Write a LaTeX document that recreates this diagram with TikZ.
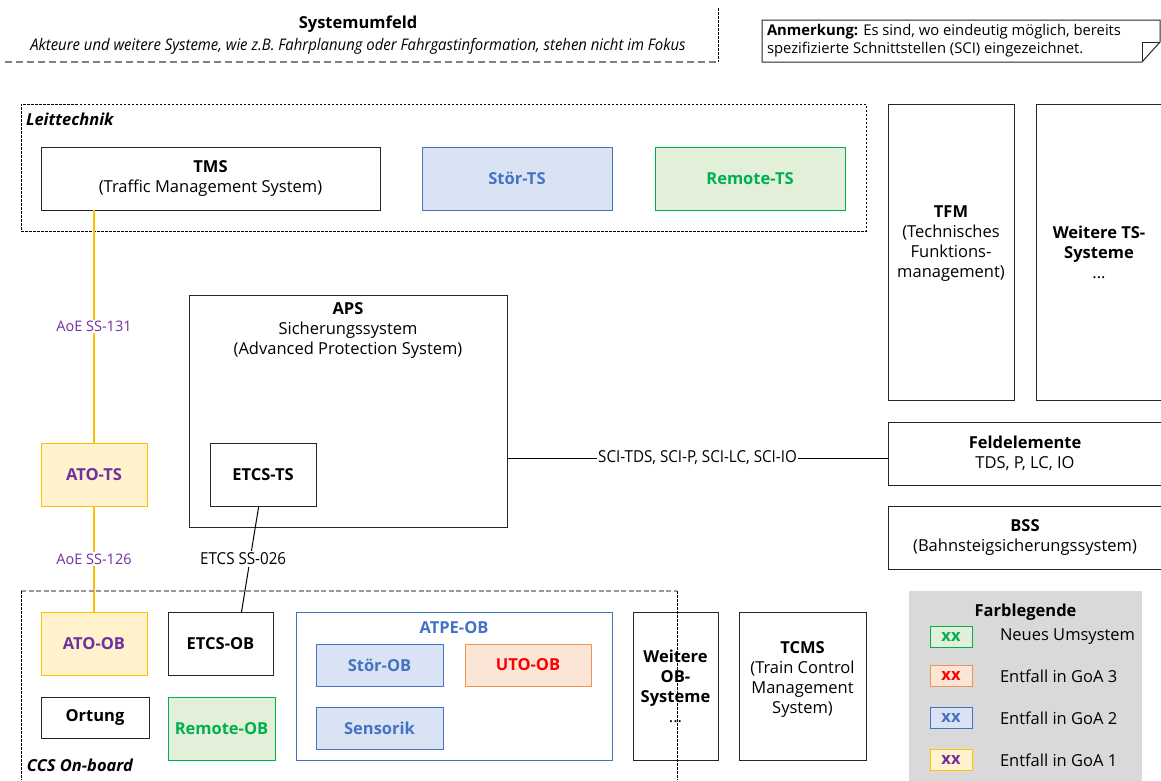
\documentclass[tikz,border=0pt]{standalone}
\usepackage{fontspec}
\setmainfont{Open Sans}
\newfontfamily\condfont{Open Sans}[FakeStretch=0.92]
\newfontfamily\subcondfont{Open Sans}[FakeStretch=0.93]
\usetikzlibrary{calc}

\definecolor{boxline}{HTML}{262626}
\definecolor{bluebd}{HTML}{4472C4}
\definecolor{bluefill}{HTML}{DAE3F3}
\definecolor{greenbd}{HTML}{00B050}
\definecolor{greenfill}{HTML}{E2F0D9}
\definecolor{yellowbd}{HTML}{FFC000}
\definecolor{yellowfill}{HTML}{FFF2CC}
\definecolor{purpletxt}{HTML}{7030A0}
\definecolor{orangebd}{HTML}{F0944F}
\definecolor{orangefill}{HTML}{FBE5D6}
\definecolor{redtxt}{HTML}{FF0000}
\definecolor{legendgray}{HTML}{D9D9D9}
\definecolor{dashgray}{HTML}{7F7F7F}

\newcommand\boxfont{\fontsize{16.5}{20}\selectfont}
\newcommand\labelfont{\fontsize{14.5}{17}\selectfont}
\newcommand\condlabelfont{\condfont\fontsize{16.5}{18}\selectfont}
\newcommand\notefont{\fontsize{14.8}{18}\selectfont}
\newcommand\subfont{\subcondfont\fontsize{16}{18}\selectfont}

\tikzset{
  every node/.style={inner sep=0pt, outer sep=0pt},
  wh/.style 2 args={minimum width=#1, minimum height=#2},
  sysbox/.style={draw=boxline, line width=1pt, fill=white, align=center,
    font=\boxfont, anchor=north west, text=black},
  boldbox/.style={sysbox, font=\boxfont\bfseries},
  bluebox/.style={sysbox, draw=bluebd, fill=bluefill, text=bluebd, font=\boxfont\bfseries},
  greenbox/.style={sysbox, draw=greenbd, fill=greenfill, text=greenbd, font=\boxfont\bfseries},
  yellowbox/.style={sysbox, draw=yellowbd, fill=yellowfill, text=purpletxt, font=\boxfont\bfseries},
  orangebox/.style={sysbox, draw=orangebd, fill=orangefill, text=redtxt, font=\boxfont\bfseries},
  boxtext/.style={align=center, font=\boxfont},
  groupbox/.style={draw=black, line width=0.8pt, dash pattern=on 2.5pt off 1.5pt, anchor=north west},
  sysdash/.style={draw=dashgray, line width=1.6pt, dash pattern=on 7pt off 4pt},
  finedash/.style={draw=black, line width=0.8pt, dash pattern=on 2.5pt off 1.5pt},
  conn/.style={draw=black, line width=1pt},
  aoeline/.style={draw=yellowbd, line width=1.2pt},
  linklabel/.style={fill=white, inner sep=1.5pt, font=\labelfont},
  swatch/.style={sysbox, wh={42}{21}, font=\boxfont\bfseries},
  legtext/.style={anchor=west, font=\boxfont},
}

\begin{document}
\begin{tikzpicture}[x=1pt, y=-1pt]
  \useasboundingbox (0,0) rectangle (1161,780);
  \clip (0,0) rectangle (1161,780);
  \fill[white] (0,0) rectangle (1161,780);

  % --- system environment header ---
  \node[font=\boxfont\bfseries] (SysTitle) at (358,24) {Systemumfeld};
  \node[font=\subfont\itshape] (SysSub) at (358,46)
    {Akteure und weitere Systeme, wie z.B. Fahrplanung oder Fahrgastinformation, stehen nicht im Fokus};
  \draw[sysdash] (5,62) -- (718,62);
  \draw[finedash] (718,8) -- (718,62);

  % --- note with folded corner ---
  \draw[draw=boxline, line width=1pt, fill=white]
    (762,20) -- (1160,20) -- (1160,42) -- (1142,62) -- (762,62) -- cycle;
  \draw[draw=boxline, line width=0.8pt] (1142,62) -- (1142,42) -- (1160,42);
  \node[anchor=north west, align=left, font=\notefont] (Note) at (767,24)
    {\textbf{Anmerkung:} Es sind, wo eindeutig möglich, bereits\\
     spezifizierte Schnittstellen (SCI) eingezeichnet.};

  % --- Leittechnik group ---
  \node[groupbox, wh={845}{127},
    label={[anchor=north west, font=\boxfont\bfseries\itshape, xshift=5pt, yshift=-9pt]north west:Leittechnik}]
    (Leit) at (21,104) {};
  \node[sysbox, wh={339}{63}] (TMS) at (41,147) {\textbf{TMS}\\(Traffic Management System)};
  \node[bluebox, wh={190}{63}] (StoerTS) at (422,147) {Stör-TS};
  \node[greenbox, wh={190}{63}] (RemoteTS) at (655,147) {Remote-TS};

  % --- trackside systems on the right ---
  \node[sysbox, wh={126}{296},
    label={[boxtext, yshift=8pt]center:\textbf{TFM}\\(Technisches\\Funktions-\\management)}]
    (TFM) at (888,104) {};
  \node[sysbox, wh={126}{296}] (WeitereTS) at (1036,104)
    {\textbf{Weitere TS-}\\\textbf{Systeme}\\...};
  \node[sysbox, wh={274}{63}] (Feld) at (888,422)
    {\textbf{Feldelemente}\\TDS, P, LC, IO};
  \node[sysbox, wh={274}{63}] (BSS) at (888,506)
    {\textbf{BSS}\\(Bahnsteigsicherungssystem)};

  % --- interlocking ---
  \node[sysbox, wh={318}{232},
    label={[anchor=north, boxtext, yshift=-8pt]north:\textbf{APS}\\Sicherungssystem\\(Advanced Protection System)}]
    (APS) at (189,295) {};
  \node[boldbox, wh={106}{63}] (ETCSTS) at (210,443) {ETCS-TS};
  \node[yellowbox, wh={106}{63}] (ATOTS) at (41,443) {ATO-TS};

  % --- on-board systems ---
  \node[yellowbox, wh={106}{63}] (ATOOB) at (41,612) {ATO-OB};
  \node[boldbox, wh={105}{63}] (ETCSOB) at (168,612) {ETCS-OB};
  \node[boldbox, wh={108}{41}] (Ortung) at (41,697) {Ortung};
  \node[greenbox, wh={107}{63}] (RemoteOB) at (168,697) {Remote-OB};
  \node[sysbox, draw=bluebd, wh={316}{148},
    label={[anchor=north, font=\boxfont\bfseries, text=bluebd, yshift=-10pt]north:ATPE-OB}]
    (ATPE) at (296,612) {};
  \node[bluebox, wh={127}{42}] (StoerOB) at (316,644) {Stör-OB};
  \node[orangebox, wh={126}{42}] (UTOOB) at (465,644) {UTO-OB};
  \node[bluebox, wh={127}{42}] (Sensorik) at (316,707) {Sensorik};
  \node[sysbox, wh={85}{148}] (WeitereOB) at (633,612)
    {\textbf{Weitere}\\\textbf{OB-}\\\textbf{Systeme}\\...};
  \node[sysbox, wh={127}{148},
    label={[boxtext, yshift=7pt]center:\textbf{TCMS}\\(Train Control\\Management\\System)}]
    (TCMS) at (739,612) {};

  % --- interfaces ---
  \draw[aoeline] (ATOTS.north) -- (ATOTS.north |- TMS.south)
    node[linklabel, text=purpletxt, midway] {AoE SS-131};
  \draw[aoeline] (ATOTS.south) -- (ATOOB.north)
    node[linklabel, text=purpletxt, midway] {AoE SS-126};
  \draw[conn] ($(ETCSTS.south west)!0.46!(ETCSTS.south east)$)
    -- ($(ETCSOB.north west)!0.70!(ETCSOB.north east)$)
    node[linklabel, font=\condlabelfont, midway, xshift=-7pt] {ETCS SS-026};
  \coordinate (SciEnd) at ($(Feld.west)+(0,4.5)$);
  \draw[conn] (SciEnd) -- (SciEnd -| APS.east)
    node[linklabel, font=\condlabelfont, midway] {SCI-TDS, SCI-P, SCI-LC, SCI-IO};

  % --- CCS on-board group frame ---
  \draw[sysdash, draw=dashgray!80, line width=1.3pt, dash pattern=on 5pt off 2.5pt] (21,591) -- (677,591);
  \draw[finedash] (21,591) -- (21,780);
  \draw[finedash] (677,591) -- (677,780);
  \node[anchor=west, font=\boxfont\bfseries\itshape] (CCS) at (27,765) {CCS On-board};

  % --- colour legend ---
  \node[fill=legendgray, anchor=north west, wh={233}{200},
    label={[anchor=north, font=\boxfont\bfseries, yshift=-13pt]north:Farblegende}]
    (Legend) at (909,591) {};
  \node[swatch, draw=greenbd, fill=greenfill, text=greenbd] (SwGreen) at (930,626) {xx};
  \node[swatch, draw=orangebd, fill=orangefill, text=redtxt] (SwOrange) at (930,665) {xx};
  \node[swatch, draw=bluebd, fill=bluefill, text=bluebd] (SwBlue) at (930,707) {xx};
  \node[swatch, draw=yellowbd, fill=yellowfill, text=purpletxt] (SwYellow) at (930,749) {xx};
  \node[legtext] (LgGreen) at (1000,637) {Neues Umsystem};
  \node[legtext] (LgOrange) at (1000,676) {Entfall in GoA 3};
  \node[legtext] (LgBlue) at (1000,718) {Entfall in GoA 2};
  \node[legtext] (LgYellow) at (1000,760) {Entfall in GoA 1};
\end{tikzpicture}
\end{document}
